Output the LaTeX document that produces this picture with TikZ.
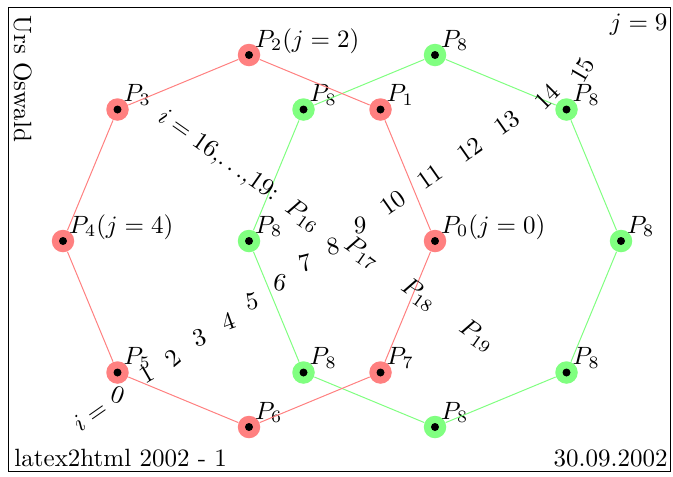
\documentclass[tikz,border=0pt]{standalone}
\usepackage{amsmath,amssymb}
\usepackage{tikz}

\begin{document}
\begin{tikzpicture}[x=0.4pt,y=0.4pt,
  pt/.style={circle,inner sep=0pt,minimum size=9pt,path picture={\fill[black] (path picture bounding box.center) circle (1.6pt);}},
  redpt/.style={pt,fill=red!50},
  greenpt/.style={pt,fill=green!50},
  lbl/.style={anchor=base west,inner sep=0pt,xshift=-2.5pt,yshift=3.2pt},
  redline/.style={red!50,thin},
  greenline/.style={green!50,thin}]
\useasboundingbox (0,0) rectangle (673,476);
\draw (8,5) rectangle (670,469);
\node[anchor=base west,inner sep=0pt,rotate=-90] (author) at (14,461) {Urs Oswald};
\node[anchor=base east,inner sep=0pt] (jnine) at (668,446) {$j=9$};
\node[anchor=base west,inner sep=0pt] (l2h) at (14,10) {latex2html 2002 - 1};
\node[anchor=base east,inner sep=0pt] (date) at (668,10) {30.09.2002};
% green octagon, all points P_8
\node[greenpt,label={[lbl]0:$P_8$}] (g0) at (621,235) {};
\node[greenpt,label={[lbl]0:$P_8$}] (g1) at (566.5,366.5) {};
\node[greenpt,label={[lbl]0:$P_8$}] (g2) at (435,421) {};
\node[greenpt,label={[lbl]0:$P_8$}] (g3) at (303.5,366.5) {};
\node[greenpt,label={[lbl]0:$P_8$}] (g4) at (249,235) {};
\node[greenpt,label={[lbl]0:$P_8$}] (g5) at (303.5,103.5) {};
\node[greenpt,label={[lbl]0:$P_8$}] (g6) at (435,49) {};
\node[greenpt,label={[lbl]0:$P_8$}] (g7) at (566.5,103.5) {};
\draw[greenline] (g0) -- (g1) -- (g2) -- (g3) -- (g4) -- (g5) -- (g6) -- (g7) -- (g0);
% red octagon
\node[redpt,label={[lbl]0:$P_0(j=0)$}] (r0) at (435,235) {};
\node[redpt,label={[lbl]0:$P_1$}] (r1) at (380.5,366.5) {};
\node[redpt,label={[lbl]0:$P_2(j=2)$}] (r2) at (249,421) {};
\node[redpt,label={[lbl]0:$P_3$}] (r3) at (117.5,366.5) {};
\node[redpt,label={[lbl]0:$P_4(j=4)$}] (r4) at (63,235) {};
\node[redpt,label={[lbl]0:$P_5$}] (r5) at (117.5,103.5) {};
\node[redpt,label={[lbl]0:$P_6$}] (r6) at (249,49) {};
\node[redpt,label={[lbl]0:$P_7$}] (r7) at (380.5,103.5) {};
\draw[redline] (r0) -- (r1) -- (r2) -- (r3) -- (r4) -- (r5) -- (r6) -- (r7) -- (r0);
% i = 0,...,15
\node[rotate=35] (ieq) at (90,60) {$i=$};
\node[rotate=-20] (n0) at (118,81) {0};
\node[rotate=30] (n1) at (147,102) {1};
\node[rotate=40] (n2) at (173,118) {2};
\node[rotate=20] (n3) at (200,138) {3};
\node[rotate=20] (n4) at (228,155) {4};
\node[rotate=10] (n5) at (252,175) {5};
\node[rotate=-10] (n6) at (280,193) {6};
\node[rotate=15] (n7) at (305,213) {7};
\node[rotate=10] (n8) at (333,230) {8};
\node (n9) at (360,251) {9};
\node[rotate=35] (n10) at (393,273) {10};
\node[rotate=35] (n11) at (430,299) {11};
\node[rotate=35] (n12) at (470,326) {12};
\node[rotate=35] (n13) at (507,353) {13};
\node[rotate=45] (n14) at (547,379) {14};
\node[rotate=60] (n15) at (583,406) {15};
% i = 16,...,19
\node[rotate=-35] (ilist) at (218,320) {$i=16{,}{\ldots}{,}19$:};
\node[rotate=-35] (p16) at (303,260) {$P_{16}$};
\node[rotate=-35] (p17) at (362,223) {$P_{17}$};
\node[rotate=-35] (p18) at (419,181) {$P_{18}$};
\node[rotate=-35] (p19) at (477,140) {$P_{19}$};
\end{tikzpicture}
\end{document}
